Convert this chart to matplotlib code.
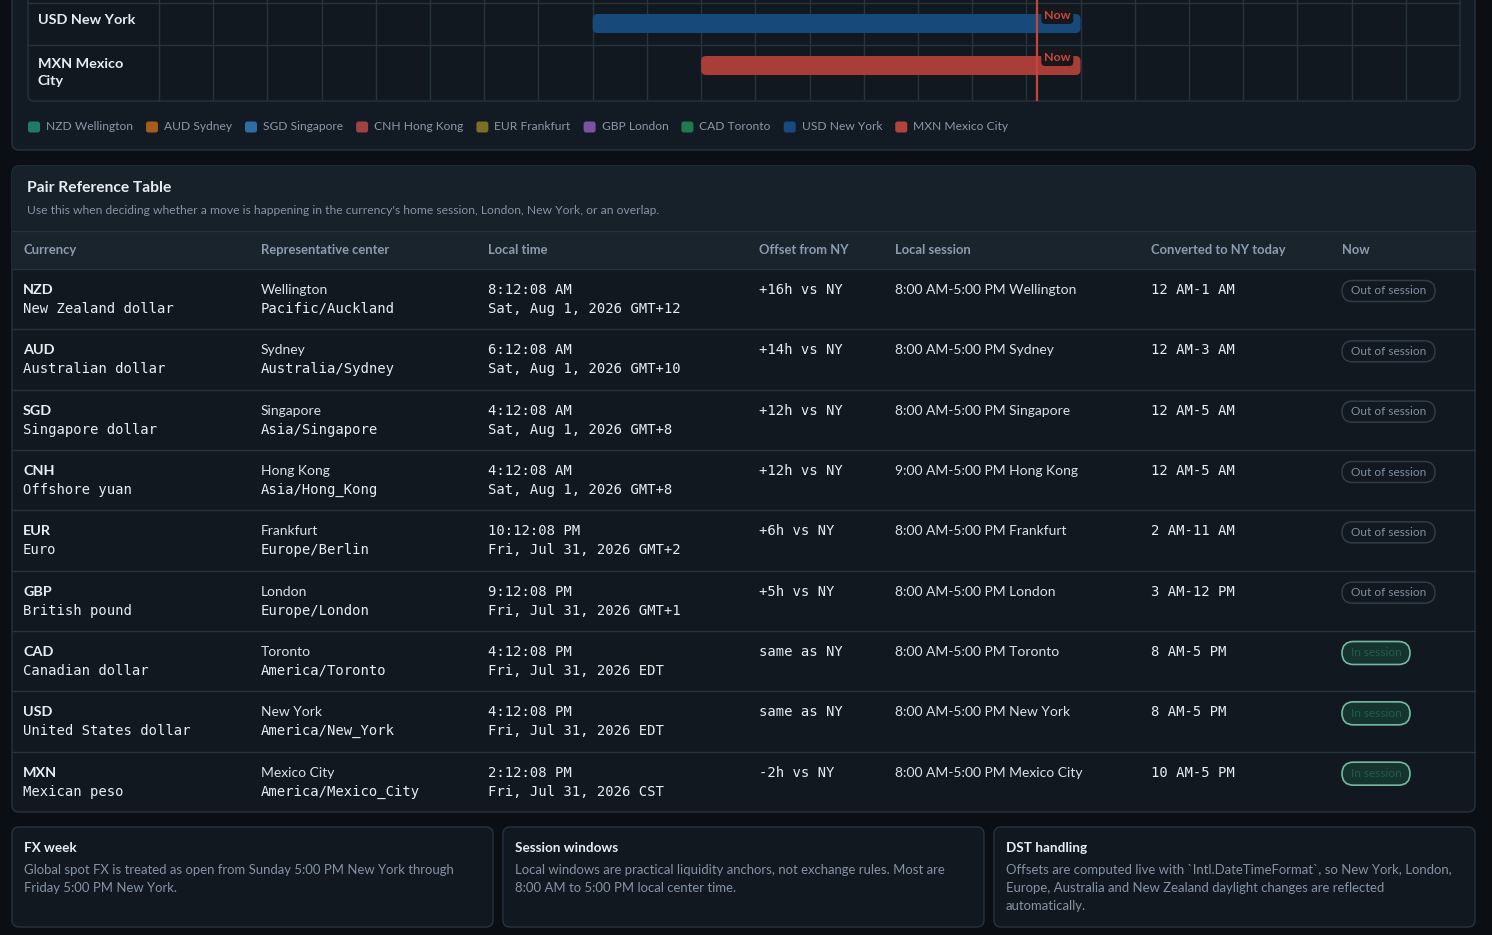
import matplotlib.pyplot as plt
from matplotlib.patches import FancyBboxPatch, Rectangle

plt.rcParams['font.family'] = ['Lato', 'DejaVu Sans']
MONO = ['DejaVu Sans Mono']

W, H = 1492, 935

# session timeline (NY hours)
gantt_labels = ["USD New York", "MXN Mexico\nCity"]
gantt_start = [8, 10]
gantt_end = [17, 17]
gantt_colors = ["#174a7b", "#a83e37"]
now_hour = 16 + 12 / 60 + 8 / 3600

legend_labels = ["NZD Wellington", "AUD Sydney", "SGD Singapore", "CNH Hong Kong",
                 "EUR Frankfurt", "GBP London", "CAD Toronto", "USD New York",
                 "MXN Mexico City"]
legend_colors = ["#1f7a66", "#a65c1c", "#2f6ea5", "#a04244", "#7a7024",
                 "#7b52a0", "#1f7a50", "#174a80", "#b3433a"]

# reference table
table_title = "Pair Reference Table"
table_sub = ("Use this when deciding whether a move is happening in the currency's "
             "home session, London, New York, or an overlap.")
columns = ["Currency", "Representative center", "Local time", "Offset from NY",
           "Local session", "Converted to NY today", "Now"]
codes = ["NZD", "AUD", "SGD", "CNH", "EUR", "GBP", "CAD", "USD", "MXN"]
names = ["New Zealand dollar", "Australian dollar", "Singapore dollar", "Offshore yuan",
         "Euro", "British pound", "Canadian dollar", "United States dollar", "Mexican peso"]
centers = ["Wellington", "Sydney", "Singapore", "Hong Kong", "Frankfurt", "London",
           "Toronto", "New York", "Mexico City"]
zones = ["Pacific/Auckland", "Australia/Sydney", "Asia/Singapore", "Asia/Hong_Kong",
         "Europe/Berlin", "Europe/London", "America/Toronto", "America/New_York",
         "America/Mexico_City"]
local_times = ["8:12:08 AM", "6:12:08 AM", "4:12:08 AM", "4:12:08 AM", "10:12:08 PM",
               "9:12:08 PM", "4:12:08 PM", "4:12:08 PM", "2:12:08 PM"]
local_dates = ["Sat, Aug 1, 2026 GMT+12", "Sat, Aug 1, 2026 GMT+10", "Sat, Aug 1, 2026 GMT+8",
               "Sat, Aug 1, 2026 GMT+8", "Fri, Jul 31, 2026 GMT+2", "Fri, Jul 31, 2026 GMT+1",
               "Fri, Jul 31, 2026 EDT", "Fri, Jul 31, 2026 EDT", "Fri, Jul 31, 2026 CST"]
offsets = ["+16h vs NY", "+14h vs NY", "+12h vs NY", "+12h vs NY", "+6h vs NY",
           "+5h vs NY", "same as NY", "same as NY", "-2h vs NY"]
sessions = ["8:00 AM-5:00 PM Wellington", "8:00 AM-5:00 PM Sydney",
            "8:00 AM-5:00 PM Singapore", "9:00 AM-5:00 PM Hong Kong",
            "8:00 AM-5:00 PM Frankfurt", "8:00 AM-5:00 PM London",
            "8:00 AM-5:00 PM Toronto", "8:00 AM-5:00 PM New York",
            "8:00 AM-5:00 PM Mexico City"]
converted = ["12 AM-1 AM", "12 AM-3 AM", "12 AM-5 AM", "12 AM-5 AM", "2 AM-11 AM",
             "3 AM-12 PM", "8 AM-5 PM", "8 AM-5 PM", "10 AM-5 PM"]
in_session = [False, False, False, False, False, False, True, True, True]

# info cards
card_titles = ["FX week", "Session windows", "DST handling"]
card_lines = [
    ["Global spot FX is treated as open from Sunday 5:00 PM New York through",
     "Friday 5:00 PM New York."],
    ["Local windows are practical liquidity anchors, not exchange rules. Most are",
     "8:00 AM to 5:00 PM local center time."],
    ["Offsets are computed live with `Intl.DateTimeFormat`, so New York, London,",
     "Europe, Australia and New Zealand daylight changes are reflected",
     "automatically."],
]

PAGE = "#0b0f14"
PANEL = "#121a23"
CELL = "#111820"
HEAD = "#17212a"
LINE = "#26333e"
WHITE = "#e6edf3"
GREY = "#8593a3"
HEADGREY = "#8c9cae"
S = 1.08  # Lato runs narrow, scale sizes up a touch


def px(v):
    return v * 0.72 * S


fig = plt.figure(figsize=(W / 100, H / 100), dpi=100)
fig.patch.set_facecolor(PAGE)
bg = fig.add_axes([0, 0, 1, 1])
bg.set_xlim(0, W)
bg.set_ylim(H, 0)
bg.axis('off')


def rbox(x, y, w, h, r, fc, ec, lw=1.0, z=1):
    p = FancyBboxPatch((x, y), w, h, boxstyle=f"round,pad=0,rounding_size={r}",
                       fc=fc, ec=ec, lw=lw, zorder=z)
    bg.add_patch(p)
    return p


# ---- timeline panel ----
rbox(12, -30, 1463, 180, 7, PANEL, LINE)
rbox(28, -30, 1432, 131, 6, CELL, LINE, z=2)
row_edges = [3, 45, 101]
for yy in row_edges[:-1]:
    bg.plot([28, 1460], [yy, yy], color=LINE, lw=1, zorder=3)
bg.plot([159, 159], [0, 101], color=LINE, lw=1, zorder=3)
label_y = [20, 72.5]
for lab, yy in zip(gantt_labels, label_y):
    bg.text(38, yy, lab, color=WHITE, fontsize=px(13.3), fontweight='bold',
            va='center', ha='left', linespacing=1.45, zorder=4)

gx0, gx1 = 159, 1460
gax = fig.add_axes([gx0 / W, 1 - 101 / H, (gx1 - gx0) / W, 101 / H])
gax.set_xlim(0, 24)
gax.set_ylim(101, 0)
gax.axis('off')
gax.patch.set_alpha(0)
for hr in range(1, 24):
    gax.axvline(hr, color=LINE, lw=1, zorder=1)
hpx = (gx1 - gx0) / 24.0
bar_top = [14, 56]
bar_h = 19
for s, e, c, yt in zip(gantt_start, gantt_end, gantt_colors, bar_top):
    r = 5 / hpx
    gax.add_patch(FancyBboxPatch((s, yt), e - s, bar_h,
                                 boxstyle=f"round,pad=0,rounding_size={r}",
                                 mutation_aspect=hpx, fc=c, ec='none', zorder=3))
gax.axvline(now_hour, color="#c6463b", lw=1.6, zorder=5)
for yt in bar_top:
    tx = now_hour + 4 / hpx
    gax.add_patch(FancyBboxPatch((tx, yt - 7), 32 / hpx, 17,
                                 boxstyle=f"round,pad=0,rounding_size={4 / hpx}",
                                 mutation_aspect=hpx, fc="#18171b", ec='none', zorder=6))
    gax.text(tx + 16 / hpx, yt + 1.5, "Now", color="#c9483d", fontsize=px(11.5),
             fontweight='bold', ha='center', va='center', zorder=7)

# legend
renderer = fig.canvas.get_renderer()
lx = 28
for lab, c in zip(legend_labels, legend_colors):
    rbox(lx, 121.5, 12, 11, 2.5, c, 'none', z=3)
    t = bg.text(lx + 18, 127, lab, color="#8a98a8", fontsize=px(11.1),
                va='center', ha='left', zorder=3)
    bb = t.get_window_extent(renderer)
    lx = lx + 18 + bb.width + 13

# ---- table panel ----
tp = rbox(12, 166, 1463, 646, 7, CELL, LINE, z=1)
hd = Rectangle((12, 166), 1463, 103, fc=HEAD, ec='none', zorder=1.5)
bg.add_patch(hd)
hd.set_clip_path(tp)
hr2 = Rectangle((12, 231), 1463, 38, fc="#19242d", ec='none', zorder=1.6)
bg.add_patch(hr2)
hr2.set_clip_path(tp)
bg.text(27, 188, table_title, color=WHITE, fontsize=px(14.5), fontweight='bold',
        va='center', ha='left', zorder=3)
bg.text(27, 210, table_sub, color=GREY, fontsize=px(11.2), va='center', ha='left', zorder=3)

col_x = [23, 261, 488, 759, 895, 1151, 1342]
for cx, name in zip(col_x, columns):
    bg.text(cx, 250, name, color=HEADGREY, fontsize=px(12), fontweight='bold',
            va='center', ha='left', zorder=3)

row_top = 269
row_h = (812 - 269) / 9
bg.plot([12, 1475], [231, 231], color=LINE, lw=1, zorder=3)
bg.plot([12, 1475], [269, 269], color=LINE, lw=1, zorder=3)
for i in range(len(codes)):
    y0 = row_top + i * row_h
    if i > 0:
        bg.plot([12, 1475], [y0, y0], color=LINE, lw=1, zorder=3)
    y1, y2 = y0 + 21, y0 + 40
    bg.text(col_x[0], y1, codes[i], color=WHITE, fontsize=px(13.3), fontweight='bold',
            va='center', ha='left', zorder=3)
    bg.text(col_x[0], y2, names[i], color=WHITE, fontsize=10, family=MONO,
            va='center', ha='left', zorder=3)
    bg.text(col_x[1], y1, centers[i], color="#dbe3ea", fontsize=px(12.8),
            va='center', ha='left', zorder=3)
    bg.text(col_x[1], y2, zones[i], color=WHITE, fontsize=10, family=MONO,
            va='center', ha='left', zorder=3)
    bg.text(col_x[2], y1, local_times[i], color=WHITE, fontsize=10, family=MONO,
            va='center', ha='left', zorder=3)
    bg.text(col_x[2], y2, local_dates[i], color=WHITE, fontsize=10, family=MONO,
            va='center', ha='left', zorder=3)
    bg.text(col_x[3], y1, offsets[i], color=WHITE, fontsize=10, family=MONO,
            va='center', ha='left', zorder=3)
    bg.text(col_x[4], y1, sessions[i], color="#dbe3ea", fontsize=px(12.8),
            va='center', ha='left', zorder=3)
    bg.text(col_x[5], y1, converted[i], color=WHITE, fontsize=10, family=MONO,
            va='center', ha='left', zorder=3)
    by = y0 + 22
    if in_session[i]:
        rbox(col_x[6], by - 11.5, 68, 23, 11.5, "#16342e", "#76b9a2", lw=1.2, z=3)
        bg.text(col_x[6] + 34, by, "In session", color="#1f5c4a", fontsize=px(11),
                va='center', ha='center', zorder=4)
    else:
        rbox(col_x[6], by - 10.5, 93, 21, 10.5, CELL, "#2f3d49", lw=1.1, z=3)
        bg.text(col_x[6] + 46.5, by, "Out of session", color="#7f8fa0", fontsize=px(11),
                va='center', ha='center', zorder=4)

# ---- info cards ----
card_x = [12, 503, 994]
card_w = 481
for cx, title, lines in zip(card_x, card_titles, card_lines):
    rbox(cx, 827, card_w, 100, 7, CELL, LINE, z=1)
    bg.text(cx + 12, 848, title, color=WHITE, fontsize=px(12.5), fontweight='bold',
            va='center', ha='left', zorder=3)
    for k, ln in enumerate(lines):
        bg.text(cx + 12, 870 + 18 * k, ln, color=GREY, fontsize=px(12.2),
                va='center', ha='left', zorder=3)

fig.savefig("out.png", dpi=100, facecolor=PAGE)
